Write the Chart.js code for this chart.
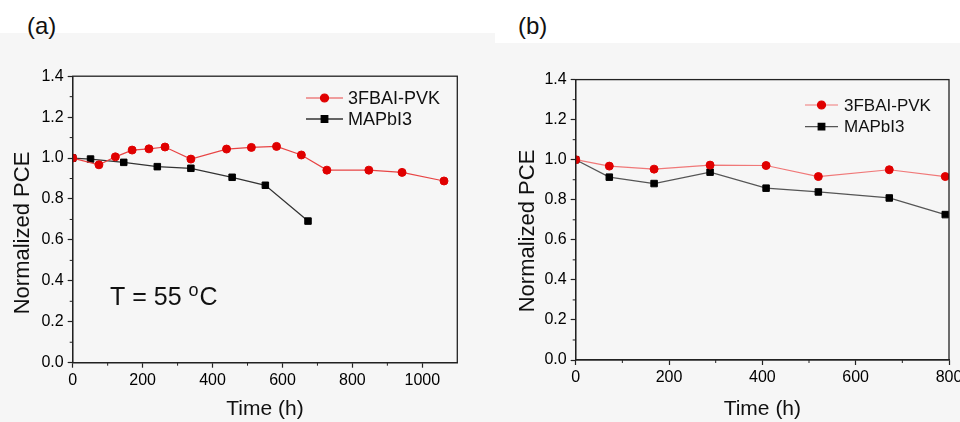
<!DOCTYPE html>
<html><head><meta charset="utf-8">
<script src="https://cdn.jsdelivr.net/npm/chart.js@4.4.1/dist/chart.umd.min.js"></script>
<style>
html,body{margin:0;padding:0;width:960px;height:422px;overflow:hidden;background:#fff;font-family:"Liberation Sans",Arial,sans-serif;}
.bg{position:absolute;background:#f6f6f6;}
#bgA{left:0;top:33px;width:495px;height:389px;}
#bgB{left:495px;top:43px;width:465px;height:379px;}
.lab{position:absolute;font-size:24px;color:#111;line-height:1;}
#labA{left:27px;top:14px;}
#labB{left:518px;top:14px;}
#wa{position:absolute;left:0;top:0;width:480px;height:422px;}
#wb{position:absolute;left:480px;top:0;width:500px;height:422px;}
</style></head><body>
<div class="bg" id="bgA"></div><div class="bg" id="bgB"></div>
<div class="lab" id="labA">(a)</div><div class="lab" id="labB">(b)</div>
<div id="wa"><canvas id="ca" width="480" height="422"></canvas></div>
<div id="wb"><canvas id="cb" width="500" height="422"></canvas></div>
<script>
// ---- data ----
const seriesLabels = ['3FBAI-PVK', 'MAPbI3'];
const timeA_PVK = [0, 75, 122, 170, 218, 264, 338, 440, 511, 583, 654, 727, 847, 942, 1062];
const pceA_PVK  = [1.0, 0.967, 1.006, 1.039, 1.045, 1.054, 0.995, 1.044, 1.052, 1.057, 1.015, 0.941, 0.941, 0.930, 0.888];
const timeA_MA  = [0, 51, 146, 242, 338, 456, 551, 673];
const pceA_MA   = [1.0, 0.995, 0.979, 0.958, 0.950, 0.906, 0.867, 0.692];
const timeB     = [0, 72, 168, 288, 408, 520, 672, 792];
const pceB_PVK  = [1.0, 0.968, 0.953, 0.973, 0.971, 0.916, 0.950, 0.916];
const pceB_MA   = [1.0, 0.913, 0.881, 0.938, 0.858, 0.839, 0.809, 0.726];
const xTitle = 'Time (h)';
const yTitle = 'Normalized PCE';
const annotationA = ['T = 55 ', 'o', 'C'];

const FONT = '"Liberation Sans", Arial, sans-serif';
const pts = (xs, ys) => xs.map((x, i) => ({x: x, y: ys[i]}));

const framePlugin = {
  id: 'frameDeco',
  afterDraw(chart, args, o) {
    const {ctx, chartArea: a, scales: {x, y}} = chart;
    ctx.save();
    ctx.strokeStyle = '#222';
    ctx.lineWidth = 1.3;
    ctx.strokeRect(a.left, a.top, a.right - a.left, a.bottom - a.top);
    // minor ticks
    ctx.lineWidth = 1;
    ctx.beginPath();
    for (let v = o.xStep / 2; v < x.max; v += o.xStep) {
      const px = x.getPixelForValue(v);
      ctx.moveTo(px, a.bottom); ctx.lineTo(px, a.bottom + 3);
    }
    for (let k = 0; (k + 0.5) * o.yStep < y.max; k++) {
      const py = y.getPixelForValue((k + 0.5) * o.yStep);
      ctx.moveTo(a.left, py); ctx.lineTo(a.left - 3, py);
    }
    ctx.stroke();
    // y-axis title (rotated)
    ctx.save();
    ctx.translate(o.yTitle.x, o.yTitle.y);
    ctx.rotate(-Math.PI / 2);
    ctx.fillStyle = '#111';
    ctx.font = '22px ' + FONT;
    ctx.textAlign = 'center';
    ctx.textBaseline = 'alphabetic';
    ctx.fillText(o.yTitle.text, 0, 0);
    ctx.restore();
    // legend: line + marker + text
    const L = o.legend;
    chart.data.datasets.forEach((ds, i) => {
      const yy = L.y + i * L.dy;
      ctx.strokeStyle = ds.borderColor;
      ctx.lineWidth = ds.borderWidth;
      ctx.beginPath(); ctx.moveTo(L.x, yy); ctx.lineTo(L.x + L.len, yy); ctx.stroke();
      ctx.fillStyle = ds.pointBackgroundColor;
      ctx.strokeStyle = ds.pointBorderColor;
      Chart.helpers.drawPoint(ctx, {pointStyle: ds.pointStyle, radius: ds.pointRadius, borderWidth: 1, rotation: 0}, L.x + L.len / 2, yy);
      ctx.fillStyle = '#111';
      ctx.font = L.size + 'px ' + FONT;
      ctx.textBaseline = 'middle';
      ctx.textAlign = 'left';
      ctx.fillText(ds.label, L.x + L.len + L.gap, yy + 1);
    });
    // annotation
    if (o.note) {
      ctx.fillStyle = '#111';
      ctx.textBaseline = 'alphabetic';
      ctx.textAlign = 'left';
      ctx.font = '25px ' + FONT;
      let nx = o.note.x;
      ctx.fillText(o.note.parts[0], nx, o.note.y);
      nx += ctx.measureText(o.note.parts[0]).width;
      ctx.font = '18px ' + FONT;
      ctx.fillText(o.note.parts[1], nx, o.note.y - 9);
      nx += ctx.measureText(o.note.parts[1]).width + 1;
      ctx.font = '25px ' + FONT;
      ctx.fillText(o.note.parts[2], nx, o.note.y);
    }
    ctx.restore();
  }
};

function makeChart(id, cfg) {
  return new Chart(document.getElementById(id), {
    type: 'line',
    data: {datasets: cfg.datasets},
    plugins: [framePlugin],
    options: {
      responsive: false,
      animation: false,
      devicePixelRatio: 1,
      layout: {padding: {top: cfg.top, right: cfg.right, left: 0, bottom: 0}},
      plugins: {
        legend: {display: false},
        tooltip: {enabled: false},
        frameDeco: {xStep: 200, yStep: 0.2, legend: cfg.legend, note: cfg.note,
                    yTitle: {text: yTitle, x: cfg.yTitleX, y: cfg.yTitleY}}
      },
      elements: {line: {tension: 0}},
      scales: {
        x: {
          type: 'linear', min: 0, max: cfg.xMax,
          afterFit: s => { s.height = cfg.xH; },
          ticks: {stepSize: 200, includeBounds: false, color: '#000', padding: 3,
                  font: {family: FONT, size: 16}, maxRotation: 0,
                  callback: v => String(v)},
          grid: {drawOnChartArea: false, drawTicks: true, tickLength: 5, tickColor: '#222', tickWidth: 1.2},
          border: {display: true, color: '#222', width: 1.3},
          title: {display: true, text: xTitle, color: '#111', font: {family: FONT, size: 21}, padding: {top: 0, bottom: 0}}
        },
        y: {
          type: 'linear', min: 0, max: 1.4,
          afterFit: s => { s.width = cfg.yW; },
          ticks: {stepSize: 0.2, color: '#000', padding: 4,
                  font: {family: FONT, size: 16},
                  callback: v => Number(v).toFixed(1)},
          grid: {drawOnChartArea: false, drawTicks: true, tickLength: 5, tickColor: '#222', tickWidth: 1.2},
          border: {display: true, color: '#222', width: 1.3},
          title: {display: false}
        }
      }
    }
  });
}

makeChart('ca', {
  xMax: 1100, top: 76.2, right: 22.7, xH: 59.3, yW: 72.7, yTitleX: 28.5, yTitleY: 233,
  legend: {x: 306, y: 98, dy: 21, len: 37, gap: 5, size: 18},
  note: {x: 110, y: 305, parts: annotationA},
  datasets: [
    {label: seriesLabels[0], data: pts(timeA_PVK, pceA_PVK), borderColor: '#e84444', borderWidth: 1.2,
     pointStyle: 'circle', pointRadius: 4, pointBackgroundColor: '#e00000', pointBorderColor: '#e00000', pointBorderWidth: 1},
    {label: seriesLabels[1], data: pts(timeA_MA, pceA_MA), borderColor: '#333333', borderWidth: 1.3,
     pointStyle: 'rect', pointRadius: 4.6, pointBackgroundColor: '#000000', pointBorderColor: '#000000', pointBorderWidth: 1}
  ]
});

makeChart('cb', {
  xMax: 800, top: 79.6, right: 31, xH: 62, yW: 95.7, yTitleX: 53.5, yTitleY: 231,
  legend: {x: 325, y: 105, dy: 21.7, len: 33, gap: 6, size: 17},
  note: null,
  datasets: [
    {label: seriesLabels[0], data: pts(timeB, pceB_PVK), borderColor: '#f07878', borderWidth: 1.2,
     pointStyle: 'circle', pointRadius: 4, pointBackgroundColor: '#e00000', pointBorderColor: '#e00000', pointBorderWidth: 1},
    {label: seriesLabels[1], data: pts(timeB, pceB_MA), borderColor: '#555555', borderWidth: 1.3,
     pointStyle: 'rect', pointRadius: 4.6, pointBackgroundColor: '#000000', pointBorderColor: '#000000', pointBorderWidth: 1}
  ]
});
</script>
</body></html>
